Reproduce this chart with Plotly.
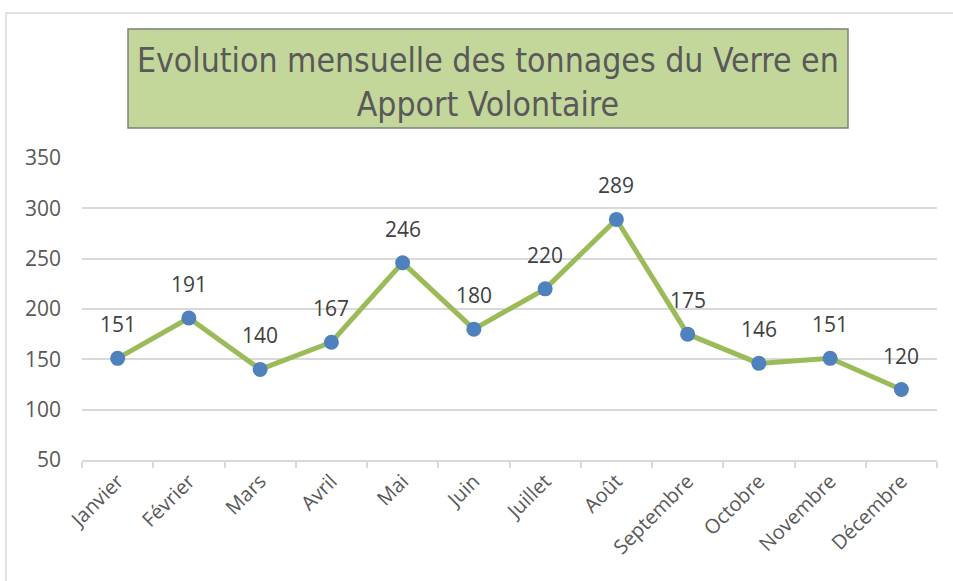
import plotly.graph_objects as go

months = ["Janvier", "Février", "Mars", "Avril", "Mai", "Juin", "Juillet", "Août",
          "Septembre", "Octobre", "Novembre", "Décembre"]
tonnages = [151, 191, 140, 167, 246, 180, 220, 289, 175, 146, 151, 120]
y_ticks = [50, 100, 150, 200, 250, 300, 350]
title_text = "Evolution mensuelle des tonnages du Verre en<br>Apport Volontaire"

L, R, T, B = 82, 16, 158, 121
W, H = 953, 581
pw, ph = W - L - R, H - T - B

def px(x):
    return (x - L) / pw

def py(y):
    return (H - B - y) / ph

fig = go.Figure()
fig.add_trace(go.Scatter(
    x=months, y=tonnages, mode="lines+markers",
    line=dict(color="#9bbb59", width=5),
    marker=dict(color="#4f81bd", size=15),
    hoverinfo="x+y", showlegend=False,
))

for m, v in zip(months, tonnages):
    fig.add_annotation(x=m, y=v, text=str(v), showarrow=False, yshift=34,
                       font=dict(family="Open Sans, Segoe UI, sans-serif", size=21, color="#404040"))

# outer chart border
fig.add_shape(type="rect", xref="paper", yref="paper",
              x0=px(6), x1=px(970), y0=py(600), y1=py(13),
              line=dict(color="#d9d9d9", width=1.5), fillcolor="rgba(0,0,0,0)", layer="below")
# title box
fig.add_shape(type="rect", xref="paper", yref="paper",
              x0=px(128), x1=px(848), y0=py(128), y1=py(29),
              line=dict(color="#7f7f7f", width=1.5), fillcolor="#c4d79b")
fig.add_annotation(xref="paper", yref="paper", x=(px(128) + px(848)) / 2, y=(py(128) + py(29)) / 2,
                   text=title_text, showarrow=False, xanchor="center", yanchor="middle", yshift=-4,
                   font=dict(family="Liberation Sans Narrow, DejaVu Sans Condensed, Open Sans, sans-serif",
                             size=33.5, color="#595959"),
                   align="center")

fig.update_layout(
    width=W, height=H,
    margin=dict(l=L, r=R, t=T, b=B),
    paper_bgcolor="white", plot_bgcolor="white",
    font=dict(family="Open Sans, Segoe UI, sans-serif", size=20, color="#595959"),
    xaxis=dict(range=[-0.5, 11.5], tickangle=-45, showgrid=False, showline=True, linecolor="#d9d9d9",
               linewidth=1.5, ticks="outside", tickson="boundaries", ticklen=6, tickcolor="#d9d9d9",
               tickwidth=1.5, tickfont=dict(size=20, color="#595959"), automargin=False),
    yaxis=dict(range=[50, 350], tickvals=y_ticks, showgrid=True, gridcolor="#d9d9d9", gridwidth=1.5,
               zeroline=False, showline=False, ticks="", ticklabelstandoff=20,
               tickfont=dict(size=21, color="#595959"), automargin=False),
)

fig.write_html("out.html", config={"displayModeBar": False},
               post_script="document.body.style.margin='0';document.body.style.padding='0';")
